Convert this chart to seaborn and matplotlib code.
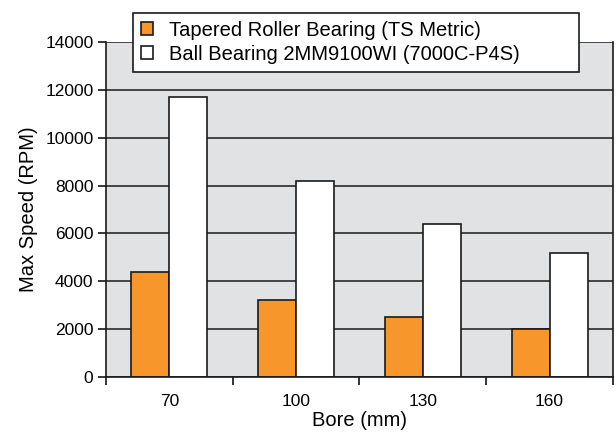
import pandas as pd
import numpy as np
import matplotlib.pyplot as plt
import seaborn as sns
from matplotlib.ticker import FixedLocator

bores = ['70', '100', '130', '160']
tapered = [4400, 3200, 2500, 2000]
ball = [11700, 8200, 6400, 5200]
series_names = ['Tapered Roller Bearing (TS Metric)', 'Ball Bearing 2MM9100WI (7000C-P4S)']

df = pd.DataFrame({
    'bore': bores * 2,
    'speed': tapered + ball,
    'bearing': [series_names[0]] * 4 + [series_names[1]] * 4,
})

sns.set_style('ticks')
plt.rcParams['font.family'] = ['Liberation Sans', 'DejaVu Sans']
plt.rcParams['text.color'] = 'black'
plt.rcParams['axes.labelcolor'] = 'black'
plt.rcParams['xtick.color'] = 'black'
plt.rcParams['ytick.color'] = 'black'

fig = plt.figure(figsize=(6.16, 4.38), dpi=100)
ax = fig.add_axes([0.172, 0.1393, 0.823, 0.7648])
ax.set_facecolor('#E1E2E4')
ax.set_axisbelow(True)

sns.barplot(data=df, x='bore', y='speed', hue='bearing', order=bores,
            hue_order=series_names, palette=['#F7972B', '#FFFFFF'],
            width=0.6, edgecolor='#1a1a1a', linewidth=1.2, saturation=1,
            ax=ax)

ax.set_ylim(0, 14000)
ax.set_yticks(np.arange(0, 14001, 2000))
ax.grid(axis='y', color='#1a1a1a', linewidth=1.1)
ax.set_xlim(-0.5, 3.5)
ax.tick_params(axis='x', which='major', length=0, labelsize=12.5, pad=12)
ax.xaxis.set_minor_locator(FixedLocator(np.arange(-0.5, 3.6, 1.0)))
ax.tick_params(axis='x', which='minor', length=6, width=1.1, direction='out')
ax.tick_params(axis='y', length=6, width=1.1, labelsize=12.5, pad=3)

for s in ax.spines.values():
    s.set_linewidth(1.2)
    s.set_color('#1a1a1a')
ax.spines['top'].set_visible(False)

ax.set_xlabel('Bore (mm)', fontsize=14.5, labelpad=2)
ax.set_ylabel('Max Speed (RPM)', fontsize=14.5, labelpad=5)

leg = ax.legend(loc='upper left', bbox_to_anchor=(0.0535, 0.904, 0.88, 0.184),
                mode='expand', fontsize=14.5,
                frameon=True, fancybox=False, edgecolor='#1a1a1a', framealpha=1,
                handlelength=0.6, handleheight=0.6, handletextpad=0.8,
                labelspacing=0.25, borderpad=0.4, borderaxespad=0)
leg.get_frame().set_linewidth(1.2)

fig.savefig('out.png', dpi=100)
